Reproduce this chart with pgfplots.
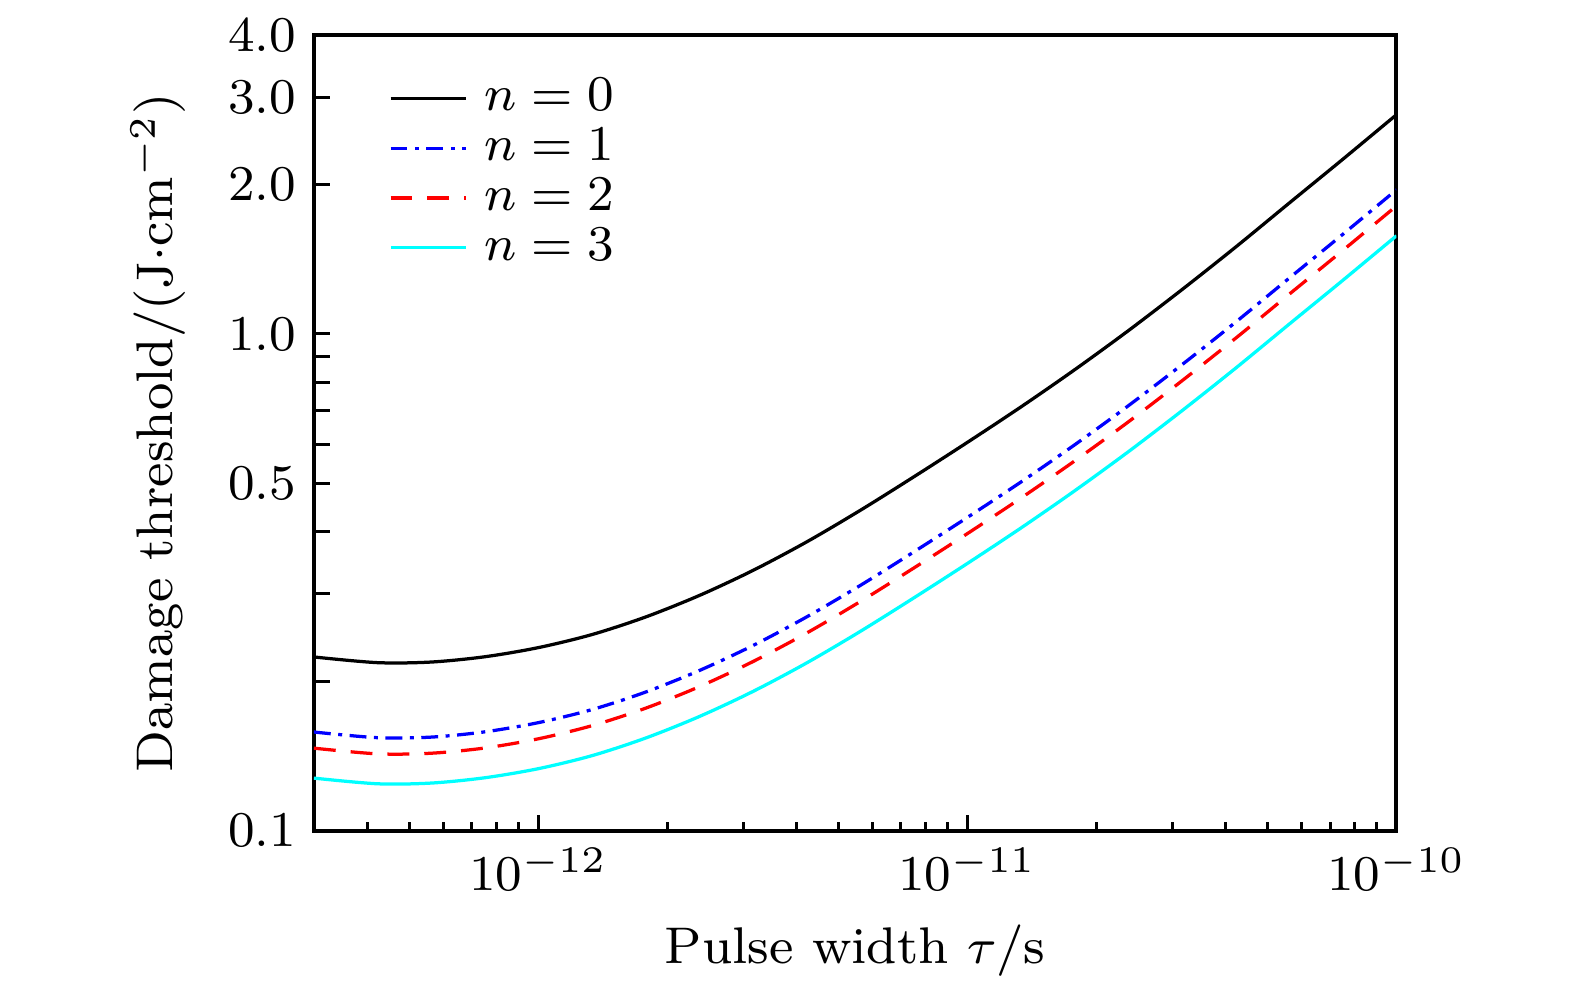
\documentclass[border=0pt]{standalone}
\usepackage{pgfplots}
\usepackage{pgfplotstable}
\pgfplotsset{compat=1.18}
\definecolor{mycyan}{rgb}{0,1,1}
\definecolor{myblue}{rgb}{0,0,1}
\definecolor{myred}{rgb}{1,0,0}
\pgfplotstableread{
x          n0      n1      n2      n3
3.000e-13  0.2236  0.1579  0.1465  0.1275
4.217e-13  0.2178  0.1538  0.1427  0.1242
5.623e-13  0.2184  0.1542  0.1431  0.1246
7.499e-13  0.2238  0.1580  0.1466  0.1277
1.000e-12  0.2335  0.1649  0.1530  0.1332
1.334e-12  0.2481  0.1752  0.1626  0.1415
1.778e-12  0.2691  0.1900  0.1763  0.1535
2.371e-12  0.2973  0.2099  0.1948  0.1696
3.162e-12  0.3339  0.2357  0.2188  0.1905
4.217e-12  0.3811  0.2691  0.2497  0.2174
5.623e-12  0.4411  0.3114  0.2890  0.2516
7.499e-12  0.5154  0.3639  0.3377  0.2940
1.000e-11  0.6049  0.4271  0.3963  0.3450
1.334e-11  0.7132  0.5035  0.4673  0.4068
1.778e-11  0.8469  0.5979  0.5549  0.4831
2.371e-11  1.0150  0.7166  0.6650  0.5790
3.162e-11  1.2278  0.8668  0.8045  0.7003
4.217e-11  1.4955  1.0558  0.9799  0.8530
5.623e-11  1.8345  1.2952  1.2020  1.0464
7.499e-11  2.2481  1.5872  1.4730  1.2823
1.000e-10  2.7640  1.9514  1.8110  1.5766
}\datatable
\begin{document}
\fontsize{8}{9.6}\selectfont
\begin{tikzpicture}
\begin{loglogaxis}[
  scale only axis,
  width=173.2pt, height=127.28pt,
  xmin=3e-13, xmax=1e-10,
  ymin=0.1, ymax=4,
  axis line style={line width=0.64pt},
  every tick/.style={line width=0.48pt, black},
  tick align=inside,
  xtick pos=bottom, ytick pos=left,
  major tick length=2.5pt, minor tick length=1.3pt,
  ytick={0.1,0.2,0.3,0.4,0.5,0.6,0.7,0.8,0.9,1,2,3,4},
  yticklabels={0.1,,,,0.5,,,,,1.0,2.0,3.0,4.0},
  minor ytick={},
  xlabel={Pulse width $\tau$/s},
  ylabel={Damage threshold/(J$\cdot$cm$^{-2}$)},
  label style={font=\fontsize{8.25}{9.9}\selectfont},
  ylabel shift=1.3pt,
  legend cell align=left,
  legend style={draw=none, fill=none, at={(rel axis cs:0,1)}, anchor=north west,
    xshift=11.8pt, yshift=-6.0pt, inner sep=0pt, row sep=0pt,
    nodes={inner ysep=0.8pt, inner xsep=2.8pt}},
  legend image code/.code={\draw[#1] (0pt,0pt) -- (12pt,0pt);},
]
\addplot[black, line width=0.52pt, smooth] table[x=x, y=n0] {\datatable};
\addlegendentry{$n=0$}
\addplot[myblue, line width=0.52pt, smooth, dash pattern=on 2.7pt off 1.2pt on 0.64pt off 1.2pt] table[x=x, y=n1] {\datatable};
\addlegendentry{$n=1$}
\addplot[myred, line width=0.52pt, smooth, dash pattern=on 3.5pt off 2.4pt] table[x=x, y=n2] {\datatable};
\addlegendentry{$n=2$}
\addplot[mycyan, line width=0.52pt, smooth] table[x=x, y=n3] {\datatable};
\addlegendentry{$n=3$}
\end{loglogaxis}
\pgfresetboundingbox
\path[use as bounding box] ([xshift=-50.24pt,yshift=-25.2pt]current axis.south west) rectangle ([xshift=28.56pt,yshift=5.6pt]current axis.north east);
\end{tikzpicture}
\end{document}
